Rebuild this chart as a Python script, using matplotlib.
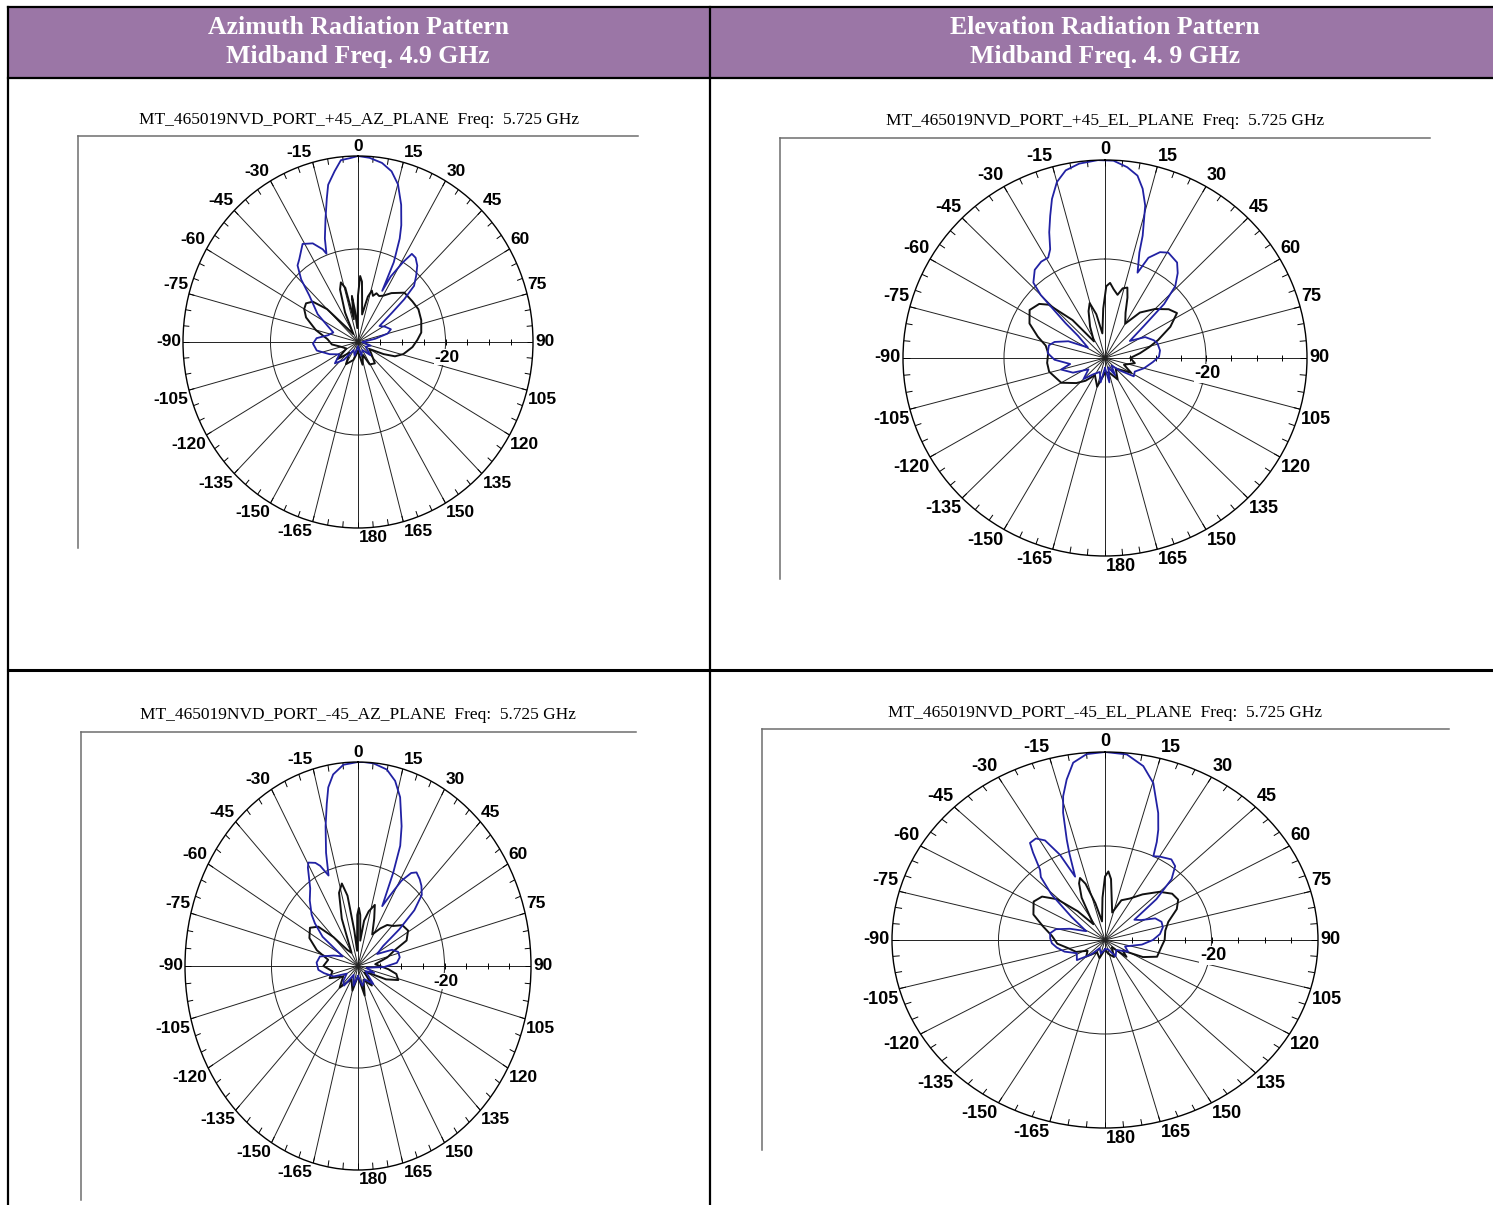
import numpy as np
import matplotlib
matplotlib.use("Agg")
import matplotlib.pyplot as plt
from matplotlib.patches import Rectangle

# ==================================================
# DATA (angle in degrees, level in dB)
# ==================================================
header_left = ["Azimuth Radiation Pattern", "Midband Freq. 4.9 GHz"]
header_right = ["Elevation Radiation Pattern", "Midband Freq. 4. 9 GHz"]

titles = [
    "MT_465019NVD_PORT_+45_AZ_PLANE  Freq:  5.725 GHz",
    "MT_465019NVD_PORT_+45_EL_PLANE  Freq:  5.725 GHz",
    "MT_465019NVD_PORT_-45_AZ_PLANE  Freq:  5.725 GHz",
    "MT_465019NVD_PORT_-45_EL_PLANE  Freq:  5.725 GHz",
]

spoke_angles = list(range(0, 360, 15))
spoke_labels = ["0", "15", "30", "45", "60", "75", "90", "105", "120", "135", "150",
                "165", "180", "-165", "-150", "-135", "-120", "-105", "-90", "-75",
                "-60", "-45", "-30", "-15"]

# --- +45 port, azimuth plane ---
az_p45_co_ang = [-180, -165, -150, -140, -131, -122, -112, -101, -92, -85, -78, -70, -64,
                 -57, -48, -44, -40, -37, -31, -26, -22, -20.8, -18.8, -15.6, -13, -11.4,
                 -8.3, -5.7, -2.5, 0, 3.8, 8.1, 11.8, 15.1, 18.5, 21.5, 23.2, 25.5, 26.7,
                 28, 31, 33, 36, 39.5, 43, 46.7, 49, 51, 55, 62, 70, 75, 80, 90, 105, 120,
                 135, 150, 165, 180]
az_p45_co_db = [-39, -37, -38, -35, -33, -35, -33, -30.4, -29.7, -30.5, -33, -34, -32.4,
                -29, -25, -21.3, -18.5, -17.7, -15.4, -16.4, -18.5, -19.7, -16.5, -12.4,
                -8.3, -5.5, -2.9, -0.7, -0.4, 0, -0.3, -1.1, -2.5, -4.9, -8.9, -13, -15.8,
                -21, -27.7, -24, -19.9, -17.4, -17.6, -18.7, -20.5, -22.4, -26, -30, -34,
                -33, -32, -33, -36, -39, -37, -38, -36, -38, -37, -39]
az_p45_x_ang = [-180, -165, -150, -140, -128, -118, -105, -95, -85, -75, -66, -60, -55,
                -50, -45, -40, -32, -25, -20, -17, -14, -11, -8, -6, -3, 0, 2, 4, 6, 9,
                13, 16, 19, 22, 26, 30, 36, 45, 55, 63, 72, 82, 88, 95, 104, 110, 114,
                120, 130, 140, 151, 158, 168, 180]
az_p45_x_db = [-38, -36, -34.5, -37, -34, -37, -36, -34, -33, -30, -27, -25.8, -25.5,
               -26.5, -30, -36, -38, -33, -28, -26.6, -28, -35, -30, -33, -37, -30,
               -25.8, -27, -31, -34, -30, -28.5, -29.5, -28.7, -29, -28.5, -27, -25,
               -24.8, -24.5, -24.8, -25.4, -26.4, -27.5, -29.3, -31, -33.6, -37, -36,
               -34, -34.5, -37, -35, -38]

# --- +45 port, elevation plane ---
el_p45_co_ang = [-180, -170, -160, -145, -135, -125, -115, -105, -100, -92, -85, -77, -72,
                 -65, -58, -50, -48, -45, -43, -38, -33, -29, -26.3, -23.5, -20.7, -18.1,
                 -15, -11.6, -7.4, -2, 2.4, 6.5, 9.9, 12.3, 14.5, 16.8, 17.7, 20.5, 23, 27,
                 30.5, 36.5, 40, 43.8, 47, 50, 55, 62, 69.6, 74, 82, 88.6, 95, 105, 115,
                 123, 130, 140, 150, 160, 170, 180]
el_p45_co_db = [-38, -35, -37, -36, -34, -36, -33, -31, -33, -30, -28.6, -28.6, -29.5,
                -32, -36, -33, -29.5, -22, -19.2, -17.4, -16.8, -16.8, -15.5, -12.3, -9.3,
                -6.2, -3.2, -1.3, -0.4, 0, -0.1, -1.2, -2.6, -5, -8.2, -14.2, -17.6, -21.6,
                -18, -16, -15.3, -16, -17.6, -19.9, -24, -30, -34, -31, -29.7, -29.2, -29,
                -29.3, -30.5, -32, -33.5, -33.2, -36, -38, -36, -38, -35, -38]
el_p45_x_ang = [-180, -165, -150, -140, -131.8, -120, -104, -95, -85, -78, -72, -65, -57,
                -50, -46, -40, -33, -25, -19, -15.3, -11, -6, -2, 1, 3.8, 7, 11, 14, 17.3,
                20, 24, 30, 37, 45, 52, 57.5, 64, 71, 76, 82, 90, 100, 110, 120, 135, 150,
                165, 180]
el_p45_x_db = [-37, -34, -36, -34, -32.4, -30, -28.6, -28.5, -28.7, -28, -26, -23.5,
               -22.2, -23, -24.5, -30, -36, -33, -30, -28.5, -31, -35, -30, -25.5, -24.8,
               -26, -27, -25.5, -25.1, -27, -30, -32, -28.5, -26, -24, -23.1, -25.6,
               -28.9, -31, -33, -35, -34, -36, -34, -37, -35, -37, -37]

# --- -45 port, azimuth plane ---
az_m45_co_ang = [-180, -165, -150, -140, -131, -120, -110, -100, -94.7, -86, -78, -70,
                 -62, -55, -50, -46.8, -41, -36, -31, -29.5, -26, -24, -21, -18.4, -15.3,
                 -12.8, -11.1, -8.7, -4.9, 0, 2, 5.1, 9.8, 13.3, 16.4, 20.2, 22.5, 24, 25.5,
                 28, 31, 34, 36.4, 40, 43, 46.6, 50, 53, 56, 62, 68, 73.5, 80, 86, 92, 100,
                 110, 120, 135, 150, 165, 180]
az_m45_co_db = [-38, -36, -38, -35, -35.5, -37, -34, -32, -30.8, -30.4, -31, -34, -36,
                -30, -27, -25.3, -23, -21.2, -17.5, -16.7, -17.5, -18.5, -21, -16.6, -11.6,
                -7.4, -4.3, -2, -0.4, 0, 0, -0.1, -0.9, -2.7, -5.5, -10.8, -14.5, -20, -27,
                -24.5, -20.5, -18, -17.2, -17.8, -18.5, -19.7, -23, -28, -33, -35, -31.5,
                -30.3, -30.2, -31, -34, -38, -36, -38, -35, -37, -36, -38]
az_m45_x_ang = [-180, -165, -150, -135, -121, -110, -100, -90, -80, -72, -64, -56, -50,
                -45, -38, -30, -22, -17, -13, -10, -7, -4, -1, 1, 3, 6, 9, 13, 18, 22, 28,
                35, 40, 46, 52, 59, 66, 70, 76, 85, 95, 100, 106.5, 112, 118, 130, 140,
                155, 165, 180]
az_m45_x_db = [-38, -35, -37, -34, -36, -33, -34, -32, -33, -30, -27.5, -26.6, -28, -32,
               -36, -37, -30, -25, -23.4, -26, -33, -37, -30, -28.6, -30, -35, -31, -29,
               -27.4, -30, -33, -31, -29.5, -28.7, -27, -26.5, -27.7, -31, -33, -36, -33,
               -31, -30.3, -33, -37, -38, -35, -37, -34, -38]

# --- -45 port, elevation plane ---
el_m45_co_ang = [-180, -165, -150, -140, -129, -118, -108, -100, -94, -88, -82, -76, -70,
                 -62, -52, -46, -42, -39.2, -36, -34.3, -31, -28, -25, -22.6, -20, -18.6,
                 -16.2, -14.4, -11.9, -9, -5, 0, 5.9, 11, 15.2, 20.3, 23.1, 25, 27, 30, 36,
                 40, 44, 48, 52, 58, 64, 70, 76, 83, 90, 98, 110, 120, 135, 150, 165, 180]
el_m45_co_db = [-38, -37, -38, -36, -33.2, -34, -32, -30.8, -30, -29.7, -29.6, -30.5,
                -33, -36, -32, -26, -22, -20.7, -17, -15, -14.8, -16, -20, -25.4, -20.5,
                -17.5, -11.8, -8.4, -5.1, -1.8, -0.3, 0, -0.3, -2.3, -5.4, -11.2, -14.5,
                -17, -20, -19.5, -18.8, -19.5, -22, -27, -33, -32, -29.5, -28.7, -28.8,
                -29.6, -31, -33, -36, -35, -37, -36, -38, -38]
el_m45_x_ang = [-180, -165, -150, -135, -125, -115, -105, -95, -85, -76, -68, -58.6, -52,
                -46, -40, -33, -26, -22, -19.6, -17, -13, -8, -3, 0, 2.5, 5, 8, 13, 20, 28,
                36, 45, 52, 58, 64, 72, 80, 90, 97.7, 110, 117, 124, 131.6, 140, 155, 168,
                180]
el_m45_x_db = [-38, -36, -37, -35, -36, -34, -33, -31, -30, -28, -25.5, -24.3, -25,
               -27.5, -32, -36, -30, -27, -26, -27.5, -32, -36, -31, -26.5, -25.4, -27,
               -31, -34, -31, -30, -28, -25.5, -24, -23.8, -25, -27.5, -28.5, -28.8,
               -29.3, -29.6, -32, -36, -34.6, -38, -36, -37, -38]

# ==================================================
# FIGURE / TABLE
# ==================================================
W, H = 1493, 1205
fig = plt.figure(figsize=(W / 100, H / 100), dpi=100)
bg = fig.add_axes([0, 0, 1, 1])
bg.set_xlim(0, W)
bg.set_ylim(H, 0)
bg.axis("off")

bg.add_patch(Rectangle((8, 7), W - 8, 71, facecolor="#9b76a6", edgecolor="none"))
bg.plot([8, W], [7, 7], color="black", lw=1.6)
bg.plot([8, W], [78, 78], color="black", lw=1.6)
bg.plot([8, W], [670, 670], color="black", lw=2.2)
bg.plot([8, 8], [7, H], color="black", lw=1.6)
bg.plot([710, 710], [7, H], color="black", lw=1.6)

serif = ["Liberation Serif", "DejaVu Serif"]
for cx, lines in [(358, header_left), (1105, header_right)]:
    bg.text(cx, 27, lines[0], color="white", fontsize=18.5, fontweight="bold",
            family=serif, ha="center", va="center")
    bg.text(cx, 57, lines[1], color="white", fontsize=18.5, fontweight="bold",
            family=serif, ha="center", va="center")

# title position, frame (x0, x1, y_top, y_bottom), polar centre and radii (pixels)
panels = [
    dict(title=(359, 120), frame=(78, 638, 136, 548), c=(358, 342), r=(175, 186), fs=12.5,
         co=(az_p45_co_ang, az_p45_co_db), x=(az_p45_x_ang, az_p45_x_db)),
    dict(title=(1105, 121), frame=(780, 1430, 138, 579), c=(1105, 358), r=(202, 198), fs=13,
         co=(el_p45_co_ang, el_p45_co_db), x=(el_p45_x_ang, el_p45_x_db)),
    dict(title=(358, 715), frame=(81, 636, 732, 1200), c=(358, 966), r=(173, 204), fs=12.5,
         co=(az_m45_co_ang, az_m45_co_db), x=(az_m45_x_ang, az_m45_x_db)),
    dict(title=(1105, 713), frame=(762, 1449, 729, 1150), c=(1105, 940), r=(213, 188), fs=13,
         co=(el_m45_co_ang, el_m45_co_db), x=(el_m45_x_ang, el_m45_x_db)),
]

label_font = ["Liberation Sans Narrow", "Liberation Sans", "DejaVu Sans"]

for p, title in zip(panels, titles):
    tx, ty = p["title"]
    bg.text(tx, ty, title, fontsize=12.5, family=serif, ha="center", va="center")
    x0, x1, yt, yb = p["frame"]
    bg.plot([x0, x1], [yt, yt], color="#6e6e6e", lw=1.1)
    bg.plot([x0, x0], [yt, yb], color="#6e6e6e", lw=1.1)

    cx, cy = p["c"]
    rx, ry = p["r"]
    ax = fig.add_axes([(cx - rx) / W, 1 - (cy + ry) / H, 2 * rx / W, 2 * ry / H],
                      projection="polar")
    ax.set_aspect("auto")
    ax.set_theta_zero_location("N")
    ax.set_theta_direction(-1)
    ax.set_ylim(-40, 0)
    ax.set_xticks(np.radians(spoke_angles))
    ax.set_xticklabels([])
    ax.set_yticks([-20])
    ax.set_yticklabels([])
    ax.tick_params(length=0)
    ax.grid(True, color="#222222", lw=0.7)
    ax.spines["polar"].set_color("black")
    ax.spines["polar"].set_linewidth(1.0)
    ax.patch.set_alpha(0)

    # small ticks on the outer circle every 5 degrees
    ax.vlines(np.radians(np.arange(0, 360, 5)), -1.3, 0, color="black", lw=0.7)
    # dB ticks on the 90 degree spoke
    ax.plot(np.full(7, np.pi / 2), [-35, -30, -25, -15, -10, -5, -20], ls="none",
            marker="|", ms=5, mew=0.7, color="black")

    # pattern curves
    ax.plot(np.radians(p["x"][0]), p["x"][1], color="#111111", lw=1.4)
    ax.plot(np.radians(p["co"][0]), p["co"][1], color="#2121a3", lw=1.3)

    # angle labels
    for a, lab in zip(spoke_angles, spoke_labels):
        if a == 0:
            ha, va, off = "center", "bottom", (0, 1.5)
        elif a == 180:
            ha, va, off = "left", "top", (0.5, -1.5)
        elif a == 90:
            ha, va, off = "left", "center", (1.5, 0)
        elif a == 270:
            ha, va, off = "right", "center", (-1.5, 0)
        else:
            ha = "left" if a < 180 else "right"
            upper = a < 90 or a > 270
            va = "bottom" if upper else "top"
            off = ((0.5 if a < 180 else -0.5), (1.5 if upper else -1.5))
        ax.annotate(lab, xy=(np.radians(a), 0), xytext=off, textcoords="offset points",
                    ha=ha, va=va, fontsize=p["fs"], fontweight="bold", family=label_font,
                    annotation_clip=False)
    ax.annotate("-20", xy=(np.pi / 2, -20), xytext=(1, -11), textcoords="offset points",
                ha="center", va="center", fontsize=p["fs"], fontweight="bold",
                family=label_font,
                bbox=dict(facecolor="white", edgecolor="none", pad=0.5))

fig.savefig("out.png", dpi=100)
